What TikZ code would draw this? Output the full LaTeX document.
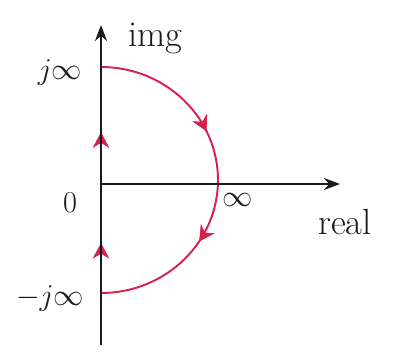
\documentclass[tikz,border=0pt]{standalone}
\usepackage{amsmath}
\usetikzlibrary{arrows.meta,decorations.markings,positioning}
\definecolor{contour}{RGB}{214,32,78}
\definecolor{ink}{RGB}{25,25,25}
\tikzset{
  axis/.style={ink, line width=1pt, -{Stealth[length=3.2mm,width=2.4mm]}},
  plane/.style={contour, line width=1.1pt},
  midarrow/.style={postaction={decorate},
    decoration={markings,mark=at position #1 with {\arrow{Stealth[length=3mm,width=3.2mm]}}}},
  lbl/.style={font=\LARGE, text=ink, inner sep=1pt},
}
\begin{document}
\begin{tikzpicture}[x=0.02cm,y=0.02cm]
    \useasboundingbox (-101,-175) rectangle (305,184);
    \coordinate (orig) at (0,0);
    \coordinate (ybot) at (0,-161);
    \coordinate (ytop) at (0,159);
    \coordinate (xend) at (239,0);
    \coordinate (jtop) at (0,117);
    \coordinate (jbot) at (0,-109);
    % contour: big half circle, then back up the imaginary axis
    \draw[plane,midarrow=0.36,midarrow=0.68]
      (jtop) arc[start angle=90, end angle=-90, x radius=117, y radius=113];
    \draw[plane,midarrow=0.22,midarrow=0.71] (jbot) -- (jtop);
    % axes
    \draw[axis] (ybot) -- (ytop);
    \draw[axis] (orig) -- (xend);
    \node[lbl,font=\huge] (imlbl) at (54,146) {img};
    \node[lbl] (jinf) at (-41,112) {$j\infty$};
    \node[lbl,font=\LARGE] (zero) at (-31,-19) {$0$};
    \node[lbl] (rinf) at (137,-16) {$\infty$};
    \node[lbl,font=\huge] (relbl) at (244,-38) {real};
    \node[lbl] (mjinf) at (-51,-114) {$-j\infty$};
\end{tikzpicture}
\end{document}
